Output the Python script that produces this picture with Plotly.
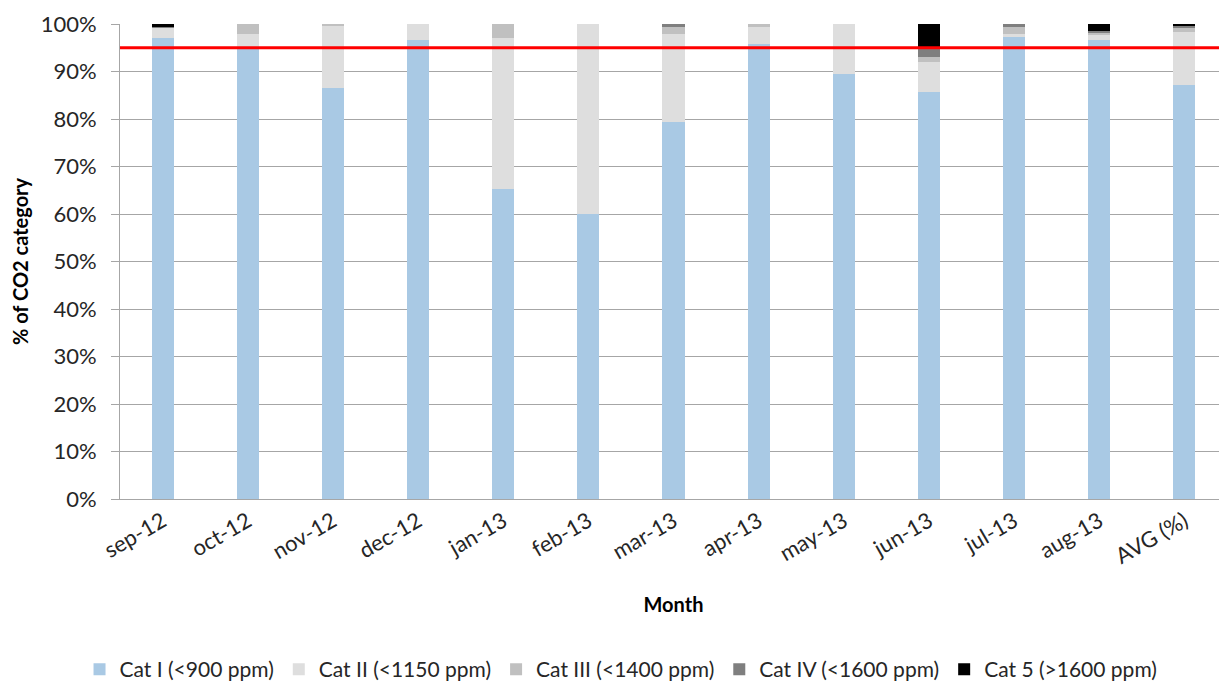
import plotly.graph_objects as go

# --- data ---
MONTHS = ["sep-12", "oct-12", "nov-12", "dec-12", "jan-13", "feb-13", "mar-13",
          "apr-13", "may-13", "jun-13", "jul-13", "aug-13", "AVG (%)"]

CAT_I = [97.1, 94.9, 86.5, 96.6, 65.2, 60.0, 79.4, 95.7, 89.5, 85.6, 97.2, 96.6, 87.2]
CAT_II = [2.2, 3.1, 13.1, 3.4, 31.8, 40.0, 18.5, 3.7, 10.5, 6.3, 0.8, 1.2, 11.2]
CAT_III = [0.0, 2.0, 0.4, 0.0, 3.0, 0.0, 1.5, 0.6, 0.0, 1.2, 1.3, 0.4, 0.8]
CAT_IV = [0.1, 0.0, 0.0, 0.0, 0.0, 0.0, 0.6, 0.0, 0.0, 2.0, 0.7, 0.3, 0.4]
CAT_5 = [0.6, 0.0, 0.0, 0.0, 0.0, 0.0, 0.0, 0.0, 0.0, 4.9, 0.0, 1.5, 0.4]

THRESHOLD = 95

SERIES = [
    ("Cat I (<900 ppm)", CAT_I, "#A9C9E4"),
    ("Cat II (<1150 ppm)", CAT_II, "#DEDEDE"),
    ("Cat III (<1400 ppm)", CAT_III, "#C0C0C0"),
    ("Cat IV (<1600 ppm)", CAT_IV, "#7F7F7F"),
    ("Cat 5 (>1600 ppm)", CAT_5, "#000000"),
]

FONT = "Lato, 'Open Sans', sans-serif"

fig = go.Figure()
for name, vals, color in SERIES:
    fig.add_trace(go.Bar(
        x=MONTHS, y=vals, name=name,
        marker=dict(color=color, line=dict(width=0)),
    ))

# 95% limit line
fig.add_hline(y=THRESHOLD, line=dict(color="#FF0000", width=3), layer="above")

# page body has an 8px margin, so the figure is 8px smaller each way
fig.update_layout(
    width=1219, height=676,
    barmode="stack",
    bargap=0.74,
    plot_bgcolor="white",
    paper_bgcolor="white",
    font=dict(family=FONT, size=22, color="#262626"),
    margin=dict(l=112, r=0, t=16, b=185, autoexpand=False),
    showlegend=True,
    legend=dict(orientation="h", x=0.4526, xanchor="center", y=-0.359, yanchor="middle",
                font=dict(size=21), traceorder="normal", itemwidth=30),
)

fig.update_yaxes(
    range=[0, 100], dtick=10, ticksuffix="%",
    showgrid=True, gridcolor="#A6A6A6", gridwidth=1,
    showline=True, linecolor="#A6A6A6", linewidth=1,
    ticks="outside", tickcolor="#A6A6A6", ticklen=8, ticklabelstandoff=10,
    title=dict(text="<b>% of CO2 category</b>", font=dict(size=20, color="#000"), standoff=14),
    zeroline=False,
)
fig.update_xaxes(
    tickangle=-30,
    showline=True, linecolor="#A6A6A6", linewidth=1,
    ticks="",
    title=dict(text="<b>Month</b>", font=dict(size=20, color="#000"), standoff=30),
)

fig.write_html("out.html")
